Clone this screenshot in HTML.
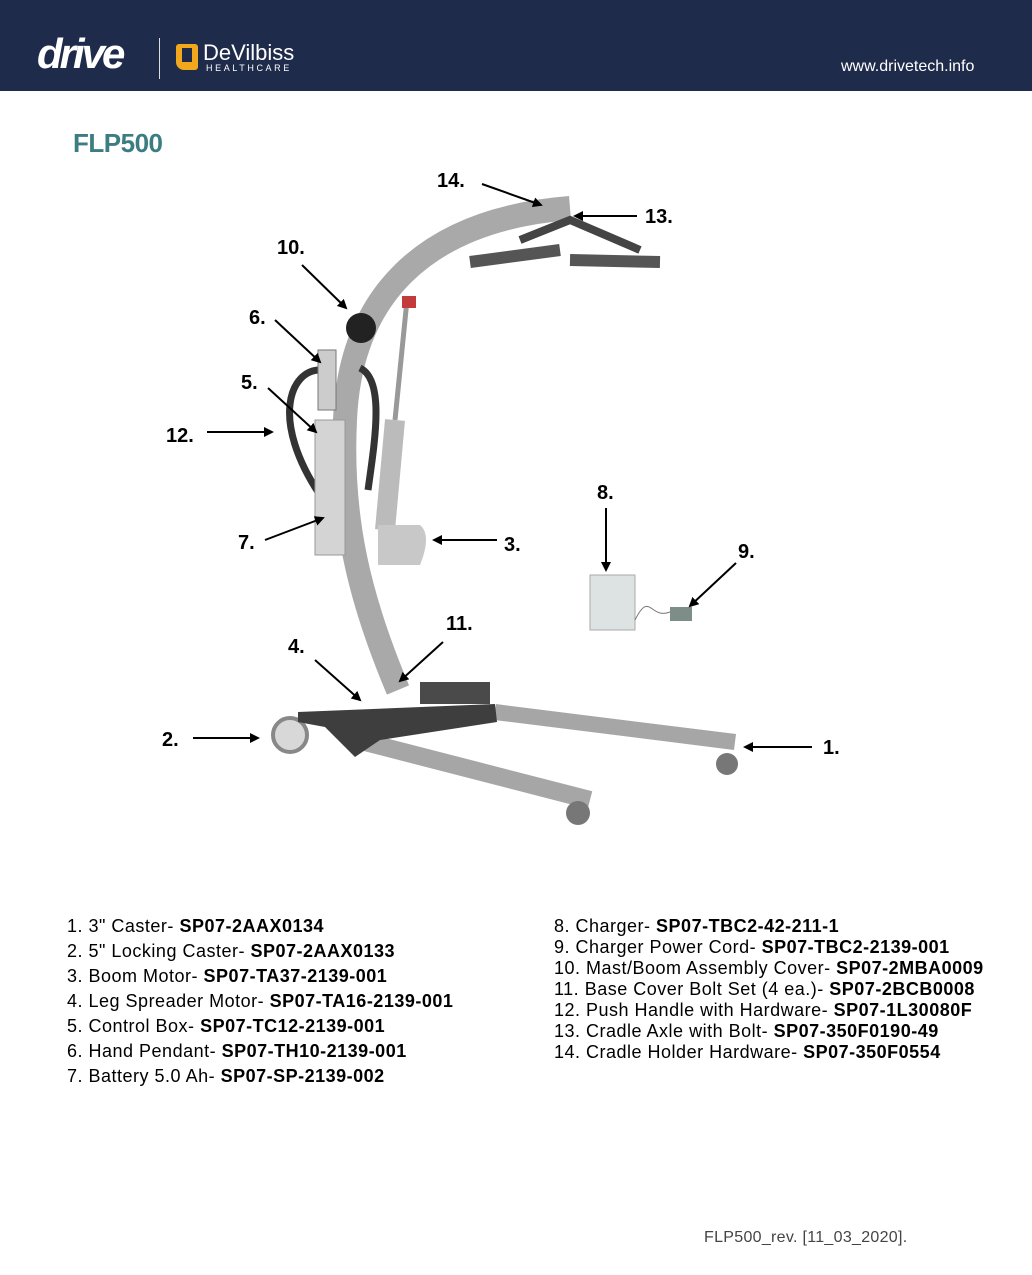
<!DOCTYPE html>
<html><head><meta charset="utf-8"><style>
body{margin:0;width:1032px;height:1275px;background:#fff;position:relative;font-family:"Liberation Sans",sans-serif;overflow:hidden}
.hdr{position:absolute;left:0;top:0;width:1032px;height:91px;background:#1f2b4a}
.t{position:absolute;white-space:nowrap}
.lst{position:absolute;font-size:18px;letter-spacing:0.5px;color:#000;white-space:nowrap}
.lst div{position:absolute;left:0}
.lst b{font-weight:bold}
.lb{position:absolute;font-weight:bold;font-size:20px;color:#000}
</style></head><body>
<div class="hdr"></div>
<div class="t" style="left:37px;top:30px;color:#fff;font-size:42px;font-weight:bold;font-style:italic;letter-spacing:-3px">drive</div>
<div style="position:absolute;left:159px;top:38px;width:1px;height:41px;background:#ddd"></div>
<div style="position:absolute;left:176px;top:44px;width:22px;height:26px;background:#f2a81d;border-radius:3px 3px 3px 8px"></div>
<div style="position:absolute;left:182px;top:48px;width:10px;height:14px;background:#1f2b4a"></div>
<div class="t" style="left:203px;top:40px;color:#fff;font-size:22px">DeVilbiss</div>
<div class="t" style="left:206px;top:63px;color:#fff;font-size:9px;letter-spacing:2.6px">HEALTHCARE</div>
<div class="t" style="left:841px;top:58px;color:#fff;font-size:16px">www.drivetech.info</div>
<div class="t" style="left:73px;top:128px;color:#3b7d82;font-size:26px;font-weight:bold;letter-spacing:-0.5px">FLP500</div>

<svg style="position:absolute;left:0;top:0" width="1032" height="880">
<defs><marker id="a" markerWidth="10" markerHeight="10" refX="8" refY="5" orient="auto" markerUnits="userSpaceOnUse"><path d="M0,0 L10,5 L0,10 z" fill="#000"/></marker></defs>
<path d="M495,712 L735,742" stroke="#a6a6a6" stroke-width="16" fill="none"/>
<path d="M365,742 L590,800" stroke="#a6a6a6" stroke-width="18" fill="none"/>
<circle cx="727" cy="764" r="11" fill="#777"/><circle cx="578" cy="813" r="12" fill="#777"/>
<circle cx="290" cy="735" r="17" fill="#d8d8d8" stroke="#888" stroke-width="4"/>
<path d="M298,712 L495,704 L497,722 L380,740 L355,757 L325,727 L298,722 z" fill="#3e3e3e"/>
<rect x="420" y="682" width="70" height="22" fill="#4a4a4a"/>
<path d="M398,690 C360,600 340,520 345,420 C350,300 420,220 570,208" stroke="#a9a9a9" stroke-width="24" fill="none"/>
<circle cx="361" cy="328" r="15" fill="#222"/>
<path d="M407,300 L395,420" stroke="#999" stroke-width="5"/>
<path d="M395,420 L385,530" stroke="#bbb" stroke-width="20"/>
<rect x="402" y="296" width="14" height="12" fill="#c23a3a"/>
<path d="M378,525 h42 q12,10 0,40 h-42 z" fill="#c8c8c8"/>
<path d="M320,370 C290,370 270,420 320,495" stroke="#333" stroke-width="7" fill="none"/>
<path d="M360,368 C385,380 375,440 368,490" stroke="#333" stroke-width="7" fill="none"/>
<rect x="318" y="350" width="18" height="60" fill="#ccc" stroke="#777"/>
<rect x="315" y="420" width="30" height="135" fill="#d4d4d4" stroke="#999"/>
<path d="M520,240 L570,220 L640,250" stroke="#444" stroke-width="8" fill="none"/>
<path d="M470,262 L560,250 M570,260 L660,262" stroke="#555" stroke-width="12" fill="none"/>
<rect x="590" y="575" width="45" height="55" fill="#dde3e3" stroke="#aaa"/>
<rect x="670" y="607" width="22" height="14" fill="#7d8d88"/>
<path d="M635,620 C650,590 650,620 670,612" stroke="#777" fill="none"/>
<g stroke="#000" stroke-width="2" fill="none" marker-end="url(#a)">
<line x1="482" y1="184" x2="541" y2="205"/>
<line x1="637" y1="216" x2="575" y2="216"/>
<line x1="302" y1="265" x2="346" y2="308"/>
<line x1="275" y1="320" x2="320" y2="362"/>
<line x1="268" y1="388" x2="316" y2="432"/>
<line x1="207" y1="432" x2="272" y2="432"/>
<line x1="497" y1="540" x2="434" y2="540"/>
<line x1="265" y1="540" x2="323" y2="518"/>
<line x1="606" y1="508" x2="606" y2="570"/>
<line x1="736" y1="563" x2="690" y2="606"/>
<line x1="443" y1="642" x2="400" y2="681"/>
<line x1="315" y1="660" x2="360" y2="700"/>
<line x1="193" y1="738" x2="258" y2="738"/>
<line x1="812" y1="747" x2="745" y2="747"/>
</g>
</svg>
<div class="lb" style="left:437px;top:170px">14.</div>
<div class="lb" style="left:645px;top:206px">13.</div>
<div class="lb" style="left:277px;top:237px">10.</div>
<div class="lb" style="left:249px;top:307px">6.</div>
<div class="lb" style="left:241px;top:372px">5.</div>
<div class="lb" style="left:166px;top:425px">12.</div>
<div class="lb" style="left:238px;top:532px">7.</div>
<div class="lb" style="left:504px;top:534px">3.</div>
<div class="lb" style="left:597px;top:482px">8.</div>
<div class="lb" style="left:738px;top:541px">9.</div>
<div class="lb" style="left:446px;top:613px">11.</div>
<div class="lb" style="left:288px;top:636px">4.</div>
<div class="lb" style="left:162px;top:729px">2.</div>
<div class="lb" style="left:823px;top:737px">1.</div>

<div class="lst" style="left:67px;top:916px">
<div style="top:0">1. 3" Caster- <b>SP07-2AAX0134</b></div>
<div style="top:25px">2. 5" Locking Caster- <b>SP07-2AAX0133</b></div>
<div style="top:50px">3. Boom Motor- <b>SP07-TA37-2139-001</b></div>
<div style="top:75px">4. Leg Spreader Motor- <b>SP07-TA16-2139-001</b></div>
<div style="top:100px">5. Control Box- <b>SP07-TC12-2139-001</b></div>
<div style="top:125px">6. Hand Pendant- <b>SP07-TH10-2139-001</b></div>
<div style="top:150px">7. Battery 5.0 Ah- <b>SP07-SP-2139-002</b></div>
</div>
<div class="lst" style="left:554px;top:916px">
<div style="top:0">8. Charger- <b>SP07-TBC2-42-211-1</b></div>
<div style="top:21px">9. Charger Power Cord- <b>SP07-TBC2-2139-001</b></div>
<div style="top:42px">10. Mast/Boom Assembly Cover- <b>SP07-2MBA0009</b></div>
<div style="top:63px">11. Base Cover Bolt Set (4 ea.)- <b>SP07-2BCB0008</b></div>
<div style="top:84px">12. Push Handle with Hardware- <b>SP07-1L30080F</b></div>
<div style="top:105px">13. Cradle Axle with Bolt- <b>SP07-350F0190-49</b></div>
<div style="top:126px">14. Cradle Holder Hardware- <b>SP07-350F0554</b></div>
</div>
<div class="t" style="left:704px;top:1229px;font-size:16px;letter-spacing:0.3px;color:#444">FLP500_rev. [11_03_2020].</div>
</body></html>
